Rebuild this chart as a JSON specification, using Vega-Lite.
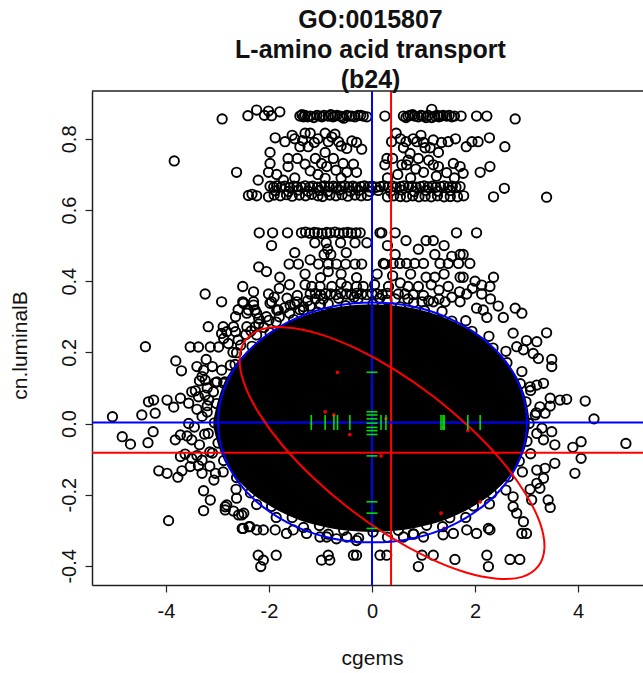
{
  "$schema": "https://vega.github.io/schema/vega-lite/v6.json",
  "width": 551,
  "height": 494,
  "autosize": "none",
  "padding": {"left": 92, "top": 91, "right": 0, "bottom": 88},
  "background": "white",
  "config": {"view": {"stroke": null}, "font": "Liberation Sans"},
  "title": {
    "text": ["GO:0015807", "L-amino acid transport", "(b24)"],
    "fontSize": 25,
    "fontWeight": "bold",
    "font": "Liberation Sans",
    "lineHeight": 30,
    "anchor": "middle",
    "offset": -3,
    "dx": 3,
    "color": "#111111"
  },
  "datasets": {
    "core": [
      {"x": -3.08, "hi": 0.01, "lo": -0.01},
      {"x": -3.0, "hi": 0.06, "lo": -0.055},
      {"x": -2.9, "hi": 0.104, "lo": -0.095},
      {"x": -2.7, "hi": 0.156, "lo": -0.142},
      {"x": -2.4, "hi": 0.207, "lo": -0.188},
      {"x": -2.0, "hi": 0.253, "lo": -0.23},
      {"x": -1.5, "hi": 0.292, "lo": -0.266},
      {"x": -1.0, "hi": 0.317, "lo": -0.288},
      {"x": -0.5, "hi": 0.33, "lo": -0.301},
      {"x": 0.0, "hi": 0.335, "lo": -0.305},
      {"x": 0.5, "hi": 0.33, "lo": -0.301},
      {"x": 1.0, "hi": 0.317, "lo": -0.288},
      {"x": 1.5, "hi": 0.292, "lo": -0.266},
      {"x": 2.0, "hi": 0.253, "lo": -0.23},
      {"x": 2.4, "hi": 0.207, "lo": -0.188},
      {"x": 2.7, "hi": 0.156, "lo": -0.142},
      {"x": 2.9, "hi": 0.104, "lo": -0.095},
      {"x": 3.0, "hi": 0.06, "lo": -0.055},
      {"x": 3.06, "hi": 0.01, "lo": -0.01}
    ],
    "ctr": [
      {"set": "origin", "x": 0.0, "y": 0.003},
      {"set": "gene set", "x": 0.37, "y": -0.082}
    ],
    "ell": [
      {"set": "origin", "i": 0, "x": 3.01, "y": 0.003},
      {"set": "origin", "i": 1, "x": 2.908, "y": 0.09},
      {"set": "origin", "i": 2, "x": 2.608, "y": 0.172},
      {"set": "origin", "i": 3, "x": 2.131, "y": 0.241},
      {"set": "origin", "i": 4, "x": 1.51, "y": 0.295},
      {"set": "origin", "i": 5, "x": 0.787, "y": 0.329},
      {"set": "origin", "i": 6, "x": 0.01, "y": 0.34},
      {"set": "origin", "i": 7, "x": -0.767, "y": 0.329},
      {"set": "origin", "i": 8, "x": -1.49, "y": 0.295},
      {"set": "origin", "i": 9, "x": -2.111, "y": 0.241},
      {"set": "origin", "i": 10, "x": -2.588, "y": 0.172},
      {"set": "origin", "i": 11, "x": -2.888, "y": 0.09},
      {"set": "origin", "i": 12, "x": -2.99, "y": 0.003},
      {"set": "origin", "i": 13, "x": -2.888, "y": -0.084},
      {"set": "origin", "i": 14, "x": -2.588, "y": -0.166},
      {"set": "origin", "i": 15, "x": -2.111, "y": -0.235},
      {"set": "origin", "i": 16, "x": -1.49, "y": -0.289},
      {"set": "origin", "i": 17, "x": -0.767, "y": -0.323},
      {"set": "origin", "i": 18, "x": 0.01, "y": -0.334},
      {"set": "origin", "i": 19, "x": 0.787, "y": -0.323},
      {"set": "origin", "i": 20, "x": 1.51, "y": -0.289},
      {"set": "origin", "i": 21, "x": 2.131, "y": -0.235},
      {"set": "origin", "i": 22, "x": 2.608, "y": -0.166},
      {"set": "origin", "i": 23, "x": 2.908, "y": -0.084},
      {"set": "gene set", "i": 0, "x": 3.229, "y": -0.401},
      {"set": "gene set", "i": 1, "x": 2.917, "y": -0.431},
      {"set": "gene set", "i": 2, "x": 2.433, "y": -0.436},
      {"set": "gene set", "i": 3, "x": 1.808, "y": -0.418},
      {"set": "gene set", "i": 4, "x": 1.089, "y": -0.377},
      {"set": "gene set", "i": 5, "x": 0.322, "y": -0.316},
      {"set": "gene set", "i": 6, "x": -0.443, "y": -0.239},
      {"set": "gene set", "i": 7, "x": -1.15, "y": -0.151},
      {"set": "gene set", "i": 8, "x": -1.753, "y": -0.059},
      {"set": "gene set", "i": 9, "x": -2.208, "y": 0.032},
      {"set": "gene set", "i": 10, "x": -2.487, "y": 0.115},
      {"set": "gene set", "i": 11, "x": -2.571, "y": 0.184},
      {"set": "gene set", "i": 12, "x": -2.452, "y": 0.235},
      {"set": "gene set", "i": 13, "x": -2.14, "y": 0.265},
      {"set": "gene set", "i": 14, "x": -1.656, "y": 0.27},
      {"set": "gene set", "i": 15, "x": -1.031, "y": 0.252},
      {"set": "gene set", "i": 16, "x": -0.313, "y": 0.211},
      {"set": "gene set", "i": 17, "x": 0.454, "y": 0.15},
      {"set": "gene set", "i": 18, "x": 1.219, "y": 0.073},
      {"set": "gene set", "i": 19, "x": 1.926, "y": -0.015},
      {"set": "gene set", "i": 20, "x": 2.53, "y": -0.107},
      {"set": "gene set", "i": 21, "x": 2.984, "y": -0.198},
      {"set": "gene set", "i": 22, "x": 3.264, "y": -0.28},
      {"set": "gene set", "i": 23, "x": 3.348, "y": -0.35}
    ],
    "genes": [
      {"x": -1.18, "y": 0.001},
      {"x": -0.91, "y": 0.033},
      {"x": -0.74, "y": 0.024},
      {"x": -0.67, "y": 0.144},
      {"x": -0.43, "y": -0.031},
      {"x": 0.175, "y": -0.091},
      {"x": 0.27, "y": 0.013},
      {"x": 1.34, "y": -0.252},
      {"x": 1.38, "y": -0.011},
      {"x": 1.4, "y": -0.295},
      {"x": 1.86, "y": -0.02},
      {"x": 2.1, "y": -0.22}
    ],
    "pts": [
      {"x": 3.05, "y": 0.0}, {"x": 2.99, "y": 0.061}, {"x": 2.88, "y": 0.112}, {"x": 2.62, "y": 0.171}, {"x": 2.35, "y": 0.212}, {"x": 1.94, "y": 0.259}, {"x": 1.55, "y": 0.288}, {"x": 1.02, "y": 0.317}, {"x": 0.55, "y": 0.328}, {"x": 0.02, "y": 0.336},
      {"x": -0.51, "y": 0.331}, {"x": -1.06, "y": 0.313}, {"x": -1.52, "y": 0.292}, {"x": -1.98, "y": 0.255}, {"x": -2.33, "y": 0.217}, {"x": -2.66, "y": 0.166}, {"x": -2.86, "y": 0.117}, {"x": -3.02, "y": 0.056}, {"x": -3.06, "y": 0.002}, {"x": -2.99, "y": -0.055},
      {"x": -2.88, "y": -0.104}, {"x": -2.63, "y": -0.152}, {"x": -2.36, "y": -0.195}, {"x": -1.95, "y": -0.233}, {"x": -1.55, "y": -0.264}, {"x": -1.02, "y": -0.287}, {"x": -0.55, "y": -0.3}, {"x": 0.02, "y": -0.305}, {"x": 0.51, "y": -0.3}, {"x": 1.06, "y": -0.286},
      {"x": 1.51, "y": -0.265}, {"x": 1.97, "y": -0.232}, {"x": 2.32, "y": -0.197}, {"x": 2.65, "y": -0.15}, {"x": 2.86, "y": -0.106}, {"x": 3.01, "y": -0.05},
      {"x": 3.19, "y": 0.03}, {"x": 3.08, "y": 0.093}, {"x": 2.91, "y": 0.146}, {"x": 2.6, "y": 0.203}, {"x": 2.27, "y": 0.245}, {"x": 1.82, "y": 0.289}, {"x": 1.36, "y": 0.315}, {"x": 0.81, "y": 0.34}, {"x": 0.29, "y": 0.347}, {"x": -0.27, "y": 0.351},
      {"x": -0.85, "y": 0.336}, {"x": -1.33, "y": 0.319}, {"x": -1.86, "y": 0.285}, {"x": -2.24, "y": 0.249}, {"x": -2.63, "y": 0.199}, {"x": -2.92, "y": 0.15}, {"x": -3.08, "y": 0.089}, {"x": -3.2, "y": 0.032}, {"x": -3.18, "y": -0.028}, {"x": -3.1, "y": -0.083},
      {"x": -2.89, "y": -0.136}, {"x": -2.64, "y": -0.185}, {"x": -2.24, "y": -0.228}, {"x": -1.86, "y": -0.264}, {"x": -1.33, "y": -0.292}, {"x": -0.85, "y": -0.311}, {"x": -0.26, "y": -0.322}, {"x": 0.3, "y": -0.32}, {"x": 0.81, "y": -0.311}, {"x": 1.37, "y": -0.29},
      {"x": 1.82, "y": -0.264}, {"x": 2.28, "y": -0.226}, {"x": 2.6, "y": -0.187}, {"x": 2.92, "y": -0.136}, {"x": 3.08, "y": -0.085}, {"x": 3.2, "y": -0.028},
      {"x": -2.2, "y": 0.28}, {"x": -2.0, "y": 0.29}, {"x": -1.8, "y": 0.3}, {"x": -1.6, "y": 0.31}, {"x": -1.4, "y": 0.32}, {"x": -1.2, "y": 0.33}, {"x": -1.0, "y": 0.335}, {"x": -2.35, "y": 0.26}, {"x": -2.1, "y": 0.27}, {"x": -1.7, "y": 0.325},
      {"x": -1.5, "y": 0.335}, {"x": -1.25, "y": 0.345}, {"x": -1.1, "y": 0.35}, {"x": -2.45, "y": 0.25}, {"x": -2.6, "y": 0.235}, {"x": -2.7, "y": 0.2}, {"x": -2.55, "y": 0.22},
      {"x": -2.91, "y": 0.856}, {"x": -2.41, "y": 0.865}, {"x": -2.24, "y": 0.881}, {"x": -2.09, "y": 0.866}, {"x": -2.01, "y": 0.878}, {"x": -1.95, "y": 0.865}, {"x": -1.79, "y": 0.876},
      {"x": -1.4, "y": 0.864}, {"x": -1.33, "y": 0.862}, {"x": -1.3, "y": 0.866}, {"x": -1.2, "y": 0.864}, {"x": -1.13, "y": 0.86}, {"x": -1.01, "y": 0.864}, {"x": -0.93, "y": 0.866}, {"x": -0.85, "y": 0.864}, {"x": -0.76, "y": 0.862}, {"x": -0.68, "y": 0.866},
      {"x": -0.62, "y": 0.864}, {"x": -0.55, "y": 0.858}, {"x": -0.49, "y": 0.866}, {"x": -0.39, "y": 0.864}, {"x": -0.33, "y": 0.862}, {"x": -0.27, "y": 0.866}, {"x": -0.17, "y": 0.864}, {"x": -0.1, "y": 0.862}, {"x": 0.25, "y": 0.864},
      {"x": -1.36, "y": 0.868}, {"x": -1.25, "y": 0.862}, {"x": -1.07, "y": 0.866}, {"x": -0.97, "y": 0.862}, {"x": -0.8, "y": 0.868}, {"x": -0.72, "y": 0.864}, {"x": -0.58, "y": 0.862}, {"x": -0.44, "y": 0.864}, {"x": -0.22, "y": 0.866},
      {"x": 0.61, "y": 0.864}, {"x": 0.66, "y": 0.86}, {"x": 0.74, "y": 0.866}, {"x": 0.83, "y": 0.864}, {"x": 0.9, "y": 0.862}, {"x": 1.0, "y": 0.864}, {"x": 1.09, "y": 0.866}, {"x": 1.16, "y": 0.86}, {"x": 1.16, "y": 0.883}, {"x": 1.22, "y": 0.864},
      {"x": 1.3, "y": 0.862}, {"x": 1.38, "y": 0.866}, {"x": 1.45, "y": 0.864}, {"x": 1.55, "y": 0.862}, {"x": 1.73, "y": 0.864}, {"x": 2.03, "y": 0.864}, {"x": 2.23, "y": 0.864}, {"x": 2.78, "y": 0.856},
      {"x": 0.7, "y": 0.864}, {"x": 0.79, "y": 0.868}, {"x": 0.95, "y": 0.866}, {"x": 1.05, "y": 0.86}, {"x": 1.27, "y": 0.866}, {"x": 1.34, "y": 0.864}, {"x": 1.5, "y": 0.866}, {"x": 1.6, "y": 0.864},
      {"x": -1.88, "y": 0.803}, {"x": -1.69, "y": 0.792}, {"x": -1.5, "y": 0.8}, {"x": -1.3, "y": 0.816}, {"x": -1.2, "y": 0.816}, {"x": -1.4, "y": 0.778}, {"x": -1.24, "y": 0.778}, {"x": -0.91, "y": 0.816}, {"x": -0.72, "y": 0.813}, {"x": -0.85, "y": 0.792},
      {"x": -0.65, "y": 0.792}, {"x": -0.39, "y": 0.794}, {"x": -0.49, "y": 0.773}, {"x": -0.2, "y": 0.771}, {"x": -1.98, "y": 0.762}, {"x": -0.91, "y": 0.762}, {"x": -1.12, "y": 0.79}, {"x": -1.35, "y": 0.795},
      {"x": 0.47, "y": 0.816}, {"x": 0.38, "y": 0.792}, {"x": 0.66, "y": 0.792}, {"x": 0.87, "y": 0.792}, {"x": 1.19, "y": 0.797}, {"x": 1.48, "y": 0.792}, {"x": 1.94, "y": 0.792}, {"x": 2.06, "y": 0.792}, {"x": 2.28, "y": 0.803}, {"x": 1.83, "y": 0.778},
      {"x": 2.58, "y": 0.778}, {"x": 0.61, "y": 0.775}, {"x": 1.03, "y": 0.775}, {"x": 1.13, "y": 0.775}, {"x": 0.74, "y": 0.759}, {"x": 1.29, "y": 0.762}, {"x": 0.9, "y": 0.745}, {"x": 0.29, "y": 0.745}, {"x": 1.0, "y": 0.79}, {"x": 0.8, "y": 0.8},
      {"x": -1.55, "y": 0.81}, {"x": -1.05, "y": 0.8}, {"x": -0.78, "y": 0.805}, {"x": -0.6, "y": 0.78}, {"x": -0.3, "y": 0.79}, {"x": 0.55, "y": 0.8}, {"x": 0.95, "y": 0.81}, {"x": 1.35, "y": 0.79}, {"x": 1.62, "y": 0.8}, {"x": 0.7, "y": 0.74},
      {"x": 1.1, "y": 0.74}, {"x": -1.1, "y": 0.745}, {"x": -0.75, "y": 0.745},
      {"x": -3.84, "y": 0.738}, {"x": -1.98, "y": 0.731}, {"x": -1.63, "y": 0.745}, {"x": -1.63, "y": 0.722}, {"x": -1.3, "y": 0.729}, {"x": -0.98, "y": 0.731}, {"x": -0.88, "y": 0.722}, {"x": -0.56, "y": 0.731}, {"x": -0.36, "y": 0.729}, {"x": -2.63, "y": 0.706},
      {"x": -2.01, "y": 0.706}, {"x": -2.21, "y": 0.684}, {"x": -1.72, "y": 0.684}, {"x": -0.91, "y": 0.689}, {"x": -0.49, "y": 0.706}, {"x": -0.3, "y": 0.706}, {"x": -1.45, "y": 0.745}, {"x": -1.2, "y": 0.71}, {"x": -0.7, "y": 0.712},
      {"x": 0.25, "y": 0.727}, {"x": 0.58, "y": 0.727}, {"x": 0.67, "y": 0.727}, {"x": 1.19, "y": 0.727}, {"x": 1.29, "y": 0.722}, {"x": 1.58, "y": 0.731}, {"x": 1.71, "y": 0.722}, {"x": 1.0, "y": 0.706}, {"x": 1.77, "y": 0.703}, {"x": 2.1, "y": 0.706},
      {"x": 2.29, "y": 0.722}, {"x": 0.4, "y": 0.745}, {"x": 0.85, "y": 0.715}, {"x": 1.45, "y": 0.705}, {"x": 0.5, "y": 0.7},
      {"x": -1.85, "y": 0.7}, {"x": -1.5, "y": 0.69}, {"x": -1.05, "y": 0.7}, {"x": -0.6, "y": 0.69}, {"x": 0.3, "y": 0.69}, {"x": 0.75, "y": 0.69}, {"x": 1.25, "y": 0.695}, {"x": 1.6, "y": 0.69},
      {"x": -1.98, "y": 0.667}, {"x": -1.91, "y": 0.664}, {"x": -1.85, "y": 0.668}, {"x": -1.76, "y": 0.665}, {"x": -1.69, "y": 0.667}, {"x": -1.6, "y": 0.663}, {"x": -1.52, "y": 0.667}, {"x": -1.46, "y": 0.666}, {"x": -1.37, "y": 0.664}, {"x": -1.3, "y": 0.668},
      {"x": -1.21, "y": 0.665}, {"x": -1.15, "y": 0.667}, {"x": -1.06, "y": 0.664}, {"x": -0.98, "y": 0.666}, {"x": -0.92, "y": 0.668}, {"x": -0.83, "y": 0.665}, {"x": -0.75, "y": 0.667}, {"x": -0.69, "y": 0.664}, {"x": -0.6, "y": 0.666}, {"x": -0.53, "y": 0.668},
      {"x": -0.45, "y": 0.665}, {"x": -0.37, "y": 0.667}, {"x": -0.31, "y": 0.664}, {"x": -0.22, "y": 0.666}, {"x": -0.15, "y": 0.668}, {"x": -0.07, "y": 0.665}, {"x": 0.0, "y": 0.667}, {"x": 0.08, "y": 0.664}, {"x": 0.16, "y": 0.666}, {"x": 0.23, "y": 0.668},
      {"x": 0.31, "y": 0.665}, {"x": 0.4, "y": 0.667}, {"x": 0.47, "y": 0.664}, {"x": 0.55, "y": 0.666}, {"x": 0.62, "y": 0.668}, {"x": 0.71, "y": 0.665}, {"x": 0.78, "y": 0.667}, {"x": 0.86, "y": 0.664}, {"x": 0.94, "y": 0.666}, {"x": 1.01, "y": 0.668},
      {"x": 1.09, "y": 0.665}, {"x": 1.17, "y": 0.667}, {"x": 1.24, "y": 0.664}, {"x": 1.33, "y": 0.666}, {"x": 1.4, "y": 0.668}, {"x": 1.48, "y": 0.665}, {"x": 1.56, "y": 0.667}, {"x": 1.63, "y": 0.664}, {"x": 1.71, "y": 0.666},
      {"x": -1.88, "y": 0.654}, {"x": -1.62, "y": 0.652}, {"x": -1.43, "y": 0.656}, {"x": -1.24, "y": 0.653}, {"x": -1.02, "y": 0.655}, {"x": -0.86, "y": 0.652}, {"x": -0.64, "y": 0.656}, {"x": -0.42, "y": 0.653}, {"x": -0.26, "y": 0.655}, {"x": -0.04, "y": 0.652},
      {"x": 0.12, "y": 0.655}, {"x": 0.36, "y": 0.653}, {"x": 0.58, "y": 0.656}, {"x": 0.82, "y": 0.652}, {"x": 1.05, "y": 0.655}, {"x": 1.28, "y": 0.653}, {"x": 1.52, "y": 0.655},
      {"x": -2.4, "y": 0.641}, {"x": -2.33, "y": 0.644}, {"x": -2.24, "y": 0.64}, {"x": -2.01, "y": 0.637}, {"x": -1.9, "y": 0.642}, {"x": -1.78, "y": 0.64}, {"x": -1.66, "y": 0.643}, {"x": -1.55, "y": 0.639}, {"x": -1.41, "y": 0.642}, {"x": -1.29, "y": 0.64},
      {"x": -1.17, "y": 0.644}, {"x": -1.05, "y": 0.64}, {"x": -0.96, "y": 0.638}, {"x": -0.82, "y": 0.642}, {"x": -0.7, "y": 0.64}, {"x": -0.58, "y": 0.643}, {"x": -0.47, "y": 0.639}, {"x": -0.33, "y": 0.642}, {"x": -0.21, "y": 0.64}, {"x": -0.09, "y": 0.641},
      {"x": 0.3, "y": 0.637}, {"x": 0.42, "y": 0.64}, {"x": 0.55, "y": 0.638}, {"x": 0.67, "y": 0.637}, {"x": 0.79, "y": 0.64}, {"x": 0.91, "y": 0.637}, {"x": 1.03, "y": 0.639}, {"x": 1.15, "y": 0.637}, {"x": 1.27, "y": 0.64}, {"x": 1.4, "y": 0.637},
      {"x": 1.52, "y": 0.638}, {"x": 1.66, "y": 0.637}, {"x": 1.78, "y": 0.64}, {"x": 2.36, "y": 0.637}, {"x": 3.39, "y": 0.636}, {"x": 2.57, "y": 0.661},
      {"x": -2.19, "y": 0.536}, {"x": -1.93, "y": 0.536}, {"x": -1.64, "y": 0.536}, {"x": -1.37, "y": 0.536}, {"x": -1.29, "y": 0.538}, {"x": -1.21, "y": 0.535}, {"x": -1.12, "y": 0.537}, {"x": -1.05, "y": 0.536}, {"x": -0.97, "y": 0.534}, {"x": -0.88, "y": 0.537},
      {"x": -0.81, "y": 0.536}, {"x": -0.72, "y": 0.538}, {"x": -0.64, "y": 0.535}, {"x": -0.55, "y": 0.536}, {"x": -0.47, "y": 0.537}, {"x": -0.4, "y": 0.535}, {"x": -0.31, "y": 0.536}, {"x": -0.23, "y": 0.536}, {"x": 0.155, "y": 0.536}, {"x": 0.19, "y": 0.536},
      {"x": 0.45, "y": 0.536}, {"x": 1.64, "y": 0.536}, {"x": 2.03, "y": 0.536},
      {"x": -1.11, "y": 0.508}, {"x": -0.89, "y": 0.508}, {"x": -0.61, "y": 0.508}, {"x": -0.33, "y": 0.508}, {"x": -0.1, "y": 0.508}, {"x": 0.66, "y": 0.514}, {"x": 1.05, "y": 0.514}, {"x": 1.19, "y": 0.514},
      {"x": -0.93, "y": 0.475}, {"x": -0.8, "y": 0.475}, {"x": 1.22, "y": 0.475}, {"x": 1.71, "y": 0.475}, {"x": 1.77, "y": 0.475}, {"x": -0.86, "y": 0.49},
      {"x": -1.95, "y": 0.5}, {"x": -1.5, "y": 0.48}, {"x": -1.2, "y": 0.46}, {"x": -0.5, "y": 0.48}, {"x": 0.3, "y": 0.5}, {"x": 0.45, "y": 0.475}, {"x": 0.9, "y": 0.49}, {"x": 1.4, "y": 0.5}, {"x": 1.55, "y": 0.47}, {"x": -2.2, "y": 0.44},
      {"x": -1.61, "y": 0.448}, {"x": -1.43, "y": 0.448}, {"x": -1.04, "y": 0.448}, {"x": -0.85, "y": 0.448}, {"x": -0.69, "y": 0.448}, {"x": -0.51, "y": 0.448}, {"x": -0.33, "y": 0.448}, {"x": -0.2, "y": 0.448}, {"x": 0.25, "y": 0.448}, {"x": 0.22, "y": 0.45},
      {"x": 0.41, "y": 0.45}, {"x": 0.54, "y": 0.45}, {"x": 0.67, "y": 0.45}, {"x": 0.83, "y": 0.45}, {"x": 1.0, "y": 0.45}, {"x": 1.32, "y": 0.45}, {"x": 1.48, "y": 0.45}, {"x": 1.68, "y": 0.45}, {"x": 1.9, "y": 0.45},
      {"x": -2.05, "y": 0.427}, {"x": -0.85, "y": 0.427}, {"x": -1.79, "y": 0.411}, {"x": 1.05, "y": 0.411}, {"x": 1.22, "y": 0.411}, {"x": 1.71, "y": 0.411}, {"x": 1.77, "y": 0.411}, {"x": 2.36, "y": 0.411}, {"x": -0.6, "y": 0.42}, {"x": 0.1, "y": 0.42},
      {"x": -1.3, "y": 0.42}, {"x": -1.0, "y": 0.41}, {"x": -0.3, "y": 0.41}, {"x": 0.4, "y": 0.415}, {"x": 0.75, "y": 0.42}, {"x": 1.4, "y": 0.42}, {"x": 2.0, "y": 0.4},
      {"x": -2.51, "y": 0.385}, {"x": -1.17, "y": 0.385}, {"x": -1.01, "y": 0.385}, {"x": -0.78, "y": 0.385}, {"x": -0.49, "y": 0.385}, {"x": -0.3, "y": 0.385}, {"x": -0.17, "y": 0.385}, {"x": 0.32, "y": 0.385}, {"x": 0.7, "y": 0.385}, {"x": 0.9, "y": 0.385},
      {"x": 1.48, "y": 0.385}, {"x": 2.29, "y": 0.385}, {"x": 2.13, "y": 0.389}, {"x": -1.3, "y": 0.39}, {"x": 0.05, "y": 0.39}, {"x": 0.55, "y": 0.395}, {"x": 1.15, "y": 0.39},
      {"x": -1.8, "y": 0.38}, {"x": -1.6, "y": 0.39}, {"x": -0.6, "y": 0.395}, {"x": 1.3, "y": 0.375}, {"x": 1.7, "y": 0.37}, {"x": 1.95, "y": 0.38}, {"x": -2.3, "y": 0.37}, {"x": -1.9, "y": 0.355}, {"x": 1.3, "y": 0.35}, {"x": 1.55, "y": 0.355},
      {"x": 2.3, "y": 0.35}, {"x": 2.45, "y": 0.33}, {"x": -2.65, "y": 0.3}, {"x": -2.2, "y": 0.295}, {"x": -2.6, "y": 0.32},
      {"x": -0.95, "y": 0.35}, {"x": -0.65, "y": 0.352}, {"x": -0.35, "y": 0.355}, {"x": 0.15, "y": 0.352}, {"x": 0.45, "y": 0.35}, {"x": 0.7, "y": 0.35}, {"x": 1.1, "y": 0.345},
      {"x": -3.24, "y": 0.364}, {"x": -2.01, "y": 0.364}, {"x": -1.2, "y": 0.364}, {"x": -1.1, "y": 0.366}, {"x": -1.0, "y": 0.362}, {"x": -0.9, "y": 0.365}, {"x": -0.8, "y": 0.364}, {"x": -0.7, "y": 0.362}, {"x": -0.6, "y": 0.366}, {"x": -0.5, "y": 0.364},
      {"x": -0.4, "y": 0.362}, {"x": -0.3, "y": 0.366}, {"x": -0.2, "y": 0.364}, {"x": -0.1, "y": 0.362}, {"x": 0.0, "y": 0.365}, {"x": 0.1, "y": 0.364}, {"x": 0.2, "y": 0.362}, {"x": 0.3, "y": 0.366}, {"x": 0.51, "y": 0.364}, {"x": 0.64, "y": 0.364},
      {"x": 0.8, "y": 0.362}, {"x": 1.0, "y": 0.36}, {"x": 1.84, "y": 0.364}, {"x": 2.13, "y": 0.364}, {"x": -1.45, "y": 0.36}, {"x": -1.65, "y": 0.352},
      {"x": -2.92, "y": 0.342}, {"x": -2.51, "y": 0.342}, {"x": -2.3, "y": 0.342}, {"x": -1.95, "y": 0.342}, {"x": -1.46, "y": 0.342}, {"x": 0.97, "y": 0.342}, {"x": 1.19, "y": 0.342}, {"x": 1.42, "y": 0.342}, {"x": 1.71, "y": 0.342},
      {"x": -2.4, "y": 0.319}, {"x": -2.27, "y": 0.319}, {"x": -1.82, "y": 0.319}, {"x": 2.03, "y": 0.324}, {"x": 2.16, "y": 0.319}, {"x": 2.78, "y": 0.324}, {"x": 2.91, "y": 0.31}, {"x": -2.05, "y": 0.3}, {"x": 2.23, "y": 0.298}, {"x": 2.55, "y": 0.298},
      {"x": -3.18, "y": 0.272}, {"x": -2.89, "y": 0.272}, {"x": -2.69, "y": 0.272}, {"x": -2.43, "y": 0.272}, {"x": -2.27, "y": 0.272}, {"x": -2.92, "y": 0.253}, {"x": -2.82, "y": 0.258}, {"x": -2.65, "y": 0.258}, {"x": -2.88, "y": 0.239}, {"x": -2.79, "y": 0.225},
      {"x": -4.4, "y": 0.216}, {"x": -3.53, "y": 0.215}, {"x": -3.37, "y": 0.215}, {"x": -3.14, "y": 0.215}, {"x": -2.98, "y": 0.215},
      {"x": -3.81, "y": 0.176}, {"x": -3.7, "y": 0.148}, {"x": -3.27, "y": 0.15}, {"x": -3.24, "y": 0.122}, {"x": -3.04, "y": 0.115}, {"x": -2.88, "y": 0.113}, {"x": -3.43, "y": 0.092}, {"x": -3.24, "y": 0.08}, {"x": -4.34, "y": 0.061}, {"x": -4.24, "y": 0.066},
      {"x": -3.98, "y": 0.066}, {"x": -3.72, "y": 0.071}, {"x": -3.56, "y": 0.057}, {"x": -3.85, "y": 0.046}, {"x": -4.47, "y": 0.024}, {"x": -4.21, "y": 0.029}, {"x": -5.04, "y": 0.019}, {"x": -3.56, "y": 0.0}, {"x": -4.85, "y": -0.037}, {"x": -4.69, "y": -0.058},
      {"x": -4.35, "y": -0.054}, {"x": -4.25, "y": -0.023}, {"x": -3.82, "y": -0.046}, {"x": -3.72, "y": -0.032}, {"x": -3.59, "y": -0.035}, {"x": -3.5, "y": -0.046}, {"x": -3.72, "y": -0.093}, {"x": -3.63, "y": -0.086}, {"x": -3.5, "y": -0.098}, {"x": -3.37, "y": -0.119},
      {"x": -3.3, "y": -0.103}, {"x": -4.14, "y": -0.133}, {"x": -3.98, "y": -0.14}, {"x": -3.77, "y": -0.151}, {"x": -3.69, "y": -0.133}, {"x": -3.53, "y": -0.121}, {"x": -3.27, "y": -0.189}, {"x": -3.14, "y": -0.215}, {"x": -3.27, "y": -0.245}, {"x": -3.07, "y": -0.159},
      {"x": -3.04, "y": -0.14}, {"x": -2.85, "y": -0.234}, {"x": -2.69, "y": -0.246}, {"x": -2.59, "y": -0.257}, {"x": -2.49, "y": -0.252}, {"x": -3.95, "y": -0.273}, {"x": -2.52, "y": -0.295}, {"x": -2.39, "y": -0.29}, {"x": -2.75, "y": 0.164}, {"x": -2.59, "y": 0.146},
      {"x": -3.3, "y": 0.132}, {"x": -3.01, "y": 0.117}, {"x": -3.5, "y": 0.089}, {"x": -3.37, "y": 0.075}, {"x": -3.17, "y": 0.066},
      {"x": -3.4, "y": 0.04}, {"x": -3.3, "y": 0.02}, {"x": -3.45, "y": -0.01}, {"x": -3.35, "y": -0.06}, {"x": -3.25, "y": -0.03}, {"x": -3.2, "y": 0.05}, {"x": -3.4, "y": -0.09}, {"x": -3.15, "y": -0.08}, {"x": -3.3, "y": -0.14}, {"x": -3.15, "y": -0.12},
      {"x": -3.2, "y": 0.1}, {"x": -3.35, "y": 0.12}, {"x": -3.1, "y": 0.16}, {"x": -3.22, "y": 0.18}, {"x": -3.4, "y": 0.16},
      {"x": 3.39, "y": 0.255}, {"x": 3.2, "y": 0.23}, {"x": 3.0, "y": 0.233}, {"x": 2.74, "y": 0.254}, {"x": 3.49, "y": 0.18}, {"x": 3.49, "y": 0.16}, {"x": 3.13, "y": 0.197}, {"x": 3.23, "y": 0.183}, {"x": 2.94, "y": 0.207}, {"x": 2.81, "y": 0.216},
      {"x": 3.33, "y": 0.113}, {"x": 3.2, "y": 0.108}, {"x": 3.07, "y": 0.103}, {"x": 3.46, "y": 0.071}, {"x": 3.65, "y": 0.066}, {"x": 3.78, "y": 0.068}, {"x": 4.14, "y": 0.063}, {"x": 3.26, "y": 0.047}, {"x": 3.46, "y": 0.049}, {"x": 3.17, "y": 0.024},
      {"x": 3.36, "y": 0.029}, {"x": 4.31, "y": 0.013}, {"x": 3.3, "y": -0.013}, {"x": 3.49, "y": -0.023}, {"x": 3.33, "y": -0.046}, {"x": 3.55, "y": -0.06}, {"x": 3.9, "y": -0.067}, {"x": 4.06, "y": -0.051}, {"x": 4.06, "y": -0.098}, {"x": 4.93, "y": -0.056},
      {"x": 3.55, "y": -0.112}, {"x": 3.36, "y": -0.126}, {"x": 3.2, "y": -0.131}, {"x": 3.94, "y": -0.14}, {"x": 3.33, "y": -0.154}, {"x": 3.2, "y": -0.168}, {"x": 3.07, "y": -0.185}, {"x": 3.26, "y": -0.182}, {"x": 3.42, "y": -0.215}, {"x": 3.46, "y": -0.236},
      {"x": 3.1, "y": -0.215}, {"x": 2.74, "y": -0.206}, {"x": 2.74, "y": -0.234}, {"x": 2.81, "y": -0.252}, {"x": 2.94, "y": -0.276}, {"x": 3.0, "y": -0.309}, {"x": 2.91, "y": -0.309}, {"x": 2.26, "y": -0.295}, {"x": 2.29, "y": -0.299}, {"x": 2.26, "y": -0.402},
      {"x": 2.23, "y": -0.37}, {"x": 2.68, "y": -0.382}, {"x": 2.87, "y": -0.382}, {"x": 1.61, "y": -0.382}, {"x": 0.9, "y": -0.402}, {"x": 0.97, "y": -0.37}, {"x": 1.19, "y": -0.37}, {"x": 0.155, "y": -0.37}, {"x": 0.285, "y": -0.37},
      {"x": 0.61, "y": -0.319}, {"x": 0.8, "y": -0.31}, {"x": 1.0, "y": -0.319}, {"x": 1.38, "y": -0.313}, {"x": 1.58, "y": -0.309}, {"x": 1.84, "y": -0.299}, {"x": 2.03, "y": -0.309},
      {"x": -2.21, "y": -0.37}, {"x": -2.11, "y": -0.384}, {"x": -2.16, "y": -0.402}, {"x": -1.86, "y": -0.37}, {"x": -0.98, "y": -0.384}, {"x": -0.85, "y": -0.37}, {"x": -0.82, "y": -0.384}, {"x": -0.36, "y": -0.37}, {"x": -0.3, "y": -0.37},
      {"x": -2.5, "y": -0.295}, {"x": -2.37, "y": -0.29}, {"x": -2.24, "y": -0.299}, {"x": -2.11, "y": -0.299}, {"x": -1.88, "y": -0.299}, {"x": -1.66, "y": -0.309}, {"x": -1.53, "y": -0.299}, {"x": -1.27, "y": -0.309}, {"x": -1.01, "y": -0.319}, {"x": -0.88, "y": -0.319},
      {"x": -0.69, "y": -0.324}, {"x": -0.49, "y": -0.319}, {"x": -0.3, "y": -0.329}, {"x": -2.85, "y": -0.243}, {"x": -2.53, "y": -0.257}, {"x": -2.82, "y": -0.229}, {"x": -2.63, "y": -0.21},
      {"x": -2.5, "y": 0.338}, {"x": -2.3, "y": 0.333}, {"x": -2.43, "y": 0.31}, {"x": -2.24, "y": 0.31}, {"x": -1.98, "y": 0.338}, {"x": -1.85, "y": 0.319}, {"x": -1.59, "y": 0.333}, {"x": -1.33, "y": 0.328}
    ]
  },
  "layer": [
    {
      "data": {"name": "core"},
      "mark": {"type": "area", "orient": "vertical", "interpolate": "monotone", "color": "black"},
      "encoding": {
        "x": {"field": "x", "type": "quantitative", "scale": {"domain": [-5.437, 5.262], "nice": false, "zero": false},
          "axis": {"values": [-4, -2, 0, 2, 4], "title": "cgems", "grid": false, "domainColor": "#222222", "domainWidth": 1.5, "tickColor": "#222222", "tickSize": 7, "tickWidth": 1.2,
            "labelFontSize": 20, "labelColor": "#111111", "labelPadding": 25, "labelBaseline": "alphabetic", "labelFlush": false, "labelOverlap": false,
            "labelExpr": "datum.value < 0 ? '-' + format(-datum.value, 'd') : format(datum.value, 'd')",
            "titleFontSize": 21, "titleFontWeight": "normal", "titleColor": "#111111", "titleX": 280, "titleY": 79, "titleAlign": "center", "titleBaseline": "alphabetic"}},
        "y": {"field": "hi", "type": "quantitative", "scale": {"domain": [-0.4539, 0.9345], "nice": false, "zero": false},
          "axis": {"values": [-0.4, -0.2, 0, 0.2, 0.4, 0.6, 0.8], "title": "cn.luminalB", "grid": false, "domainColor": "#222222", "domainWidth": 1.5, "tickColor": "#222222", "tickSize": 7, "tickWidth": 1.2,
            "labelAngle": 270, "labelAlign": "center", "labelBaseline": "alphabetic", "labelPadding": 10, "labelFontSize": 20, "labelColor": "#111111", "labelFlush": false, "labelOverlap": false,
            "labelExpr": "datum.value < 0 ? '-' + format(-datum.value, '.1f') : format(datum.value, '.1f')",
            "titleFontSize": 21, "titleFontWeight": "normal", "titleColor": "#111111", "titleX": -66, "titleY": 254, "titleAngle": 270, "titleAlign": "center", "titleBaseline": "alphabetic"}},
        "y2": {"field": "lo"}
      }
    },
    {
      "data": {"name": "pts"},
      "mark": {"type": "point", "shape": "circle", "filled": false, "stroke": "black", "strokeWidth": 1.9, "size": 88, "opacity": 1},
      "encoding": {
        "x": {"field": "x", "type": "quantitative", "title": "cgems", "scale": {"domain": [-5.437, 5.262], "nice": false, "zero": false}},
        "y": {"field": "y", "type": "quantitative", "title": "cn.luminalB", "scale": {"domain": [-0.4539, 0.9345], "nice": false, "zero": false}}
      }
    },
    {
      "data": {"name": "genes"},
      "mark": {"type": "point", "shape": "circle", "filled": true, "color": "#ee0000", "size": 14, "opacity": 1},
      "encoding": {
        "x": {"field": "x", "type": "quantitative", "title": "cgems", "scale": {"domain": [-5.437, 5.262], "nice": false, "zero": false}},
        "y": {"field": "y", "type": "quantitative", "title": "cn.luminalB", "scale": {"domain": [-0.4539, 0.9345], "nice": false, "zero": false}}
      }
    },
    {
      "data": {"name": "ctr"},
      "mark": {"type": "rule", "strokeWidth": 2},
      "encoding": {
        "x": {"field": "x", "type": "quantitative", "title": "cgems", "scale": {"domain": [-5.437, 5.262], "nice": false, "zero": false}},
        "color": {"field": "set", "type": "nominal", "scale": {"domain": ["origin", "gene set"], "range": ["#0000ff", "#ff0000"]}, "legend": null}
      }
    },
    {
      "data": {"name": "ctr"},
      "mark": {"type": "rule", "strokeWidth": 2},
      "encoding": {
        "y": {"field": "y", "type": "quantitative", "title": "cn.luminalB", "scale": {"domain": [-0.4539, 0.9345], "nice": false, "zero": false}},
        "color": {"field": "set", "type": "nominal", "scale": {"domain": ["origin", "gene set"], "range": ["#0000ff", "#ff0000"]}, "legend": null}
      }
    },
    {
      "data": {"name": "ell"},
      "mark": {"type": "line", "interpolate": "cardinal-closed", "strokeWidth": 2},
      "encoding": {
        "x": {"field": "x", "type": "quantitative", "title": "cgems", "scale": {"domain": [-5.437, 5.262], "nice": false, "zero": false}},
        "y": {"field": "y", "type": "quantitative", "title": "cn.luminalB", "scale": {"domain": [-0.4539, 0.9345], "nice": false, "zero": false}},
        "order": {"field": "i", "type": "quantitative"},
        "color": {"field": "set", "type": "nominal", "scale": {"domain": ["origin", "gene set"], "range": ["#0000ff", "#ff0000"]}, "legend": null}
      }
    },
    {
      "data": {"name": "genes"},
      "mark": {"type": "tick", "orient": "vertical", "color": "#00e000", "size": 15, "thickness": 1.6, "opacity": 1},
      "encoding": {
        "x": {"field": "x", "type": "quantitative", "title": "cgems", "scale": {"domain": [-5.437, 5.262], "nice": false, "zero": false}},
        "y": {"datum": 0.003, "type": "quantitative", "scale": {"domain": [-0.4539, 0.9345], "nice": false, "zero": false}}
      }
    },
    {
      "data": {"name": "genes"},
      "mark": {"type": "tick", "orient": "horizontal", "color": "#00e000", "size": 11, "thickness": 1.6, "opacity": 1},
      "encoding": {
        "x": {"datum": 0, "type": "quantitative", "scale": {"domain": [-5.437, 5.262], "nice": false, "zero": false}},
        "y": {"field": "y", "type": "quantitative", "title": "cn.luminalB", "scale": {"domain": [-0.4539, 0.9345], "nice": false, "zero": false}}
      }
    },
    {
      "data": {"values": [{"edge": 0.9345}]},
      "mark": {"type": "rule", "color": "#222222", "strokeWidth": 1.5},
      "encoding": {
        "y": {"field": "edge", "type": "quantitative", "title": "cn.luminalB", "scale": {"domain": [-0.4539, 0.9345], "nice": false, "zero": false}}
      }
    }
  ]
}
